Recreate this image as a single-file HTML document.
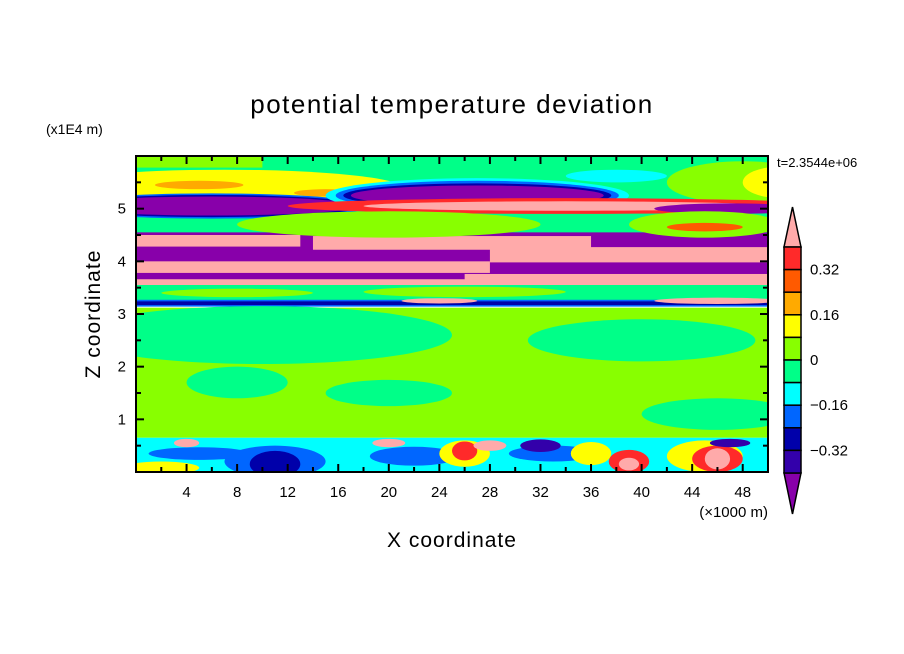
<!DOCTYPE html>
<html><head><meta charset="utf-8">
<style>
body{margin:0;background:#fff;}
svg{display:block;font-family:"Liberation Sans",sans-serif;}
</style></head>
<body>
<svg id="chart" width="904" height="654" viewBox="0 0 904 654">
<text x="452" y="113" text-anchor="middle" font-size="26" letter-spacing="1.5">potential temperature deviation</text>
<text x="46" y="134" font-size="14">(x1E4 m)</text>
<text transform="translate(100,314) rotate(-90)" text-anchor="middle" font-size="21" letter-spacing="1">Z coordinate</text>
<text x="452" y="547" text-anchor="middle" font-size="21" letter-spacing="1">X coordinate</text>
<text x="768" y="517" text-anchor="end" font-size="15">(×1000 m)</text>
<text x="777" y="167" font-size="13">t=2.3544e+06</text>
<defs><clipPath id="pc"><rect x="136" y="156" width="632" height="316"/></clipPath></defs>
<g id="field" clip-path="url(#pc)"></g>
<g id="axes"></g>
<g id="cbar"></g>
</svg>
<script>
const levelColors=["#8800aa","#3300aa","#0000aa","#0066ff","#00ffff","#00ff88","#88ff00","#ffff00","#ffaa00","#ff5a00","#ff2a2a","#ffaaaa"];
const cbarLabels=["0.32","0.16","0","−0.16","−0.32"];
const xTicks=[4,8,12,16,20,24,28,32,36,40,44,48];
const yTicks=[1,2,3,4,5];
// rectangles: [x0,x1,z0,z1,level]
const rects=[
[0,50,3.25,6,5],[0,10,5.78,6,6],
[0,50,0.65,3.12,6],
[0,50,3.55,4.55,0],
[0,13,4.28,4.5,11],[14,36,4.22,4.48,11],
[0,28,3.78,4.0,11],[28,50,3.98,4.27,11],
[0,30,3.55,3.66,11],[26,50,3.55,3.76,11],
[0,50,3.3,3.55,5],
[0,50,3.14,3.27,3],[0,50,3.17,3.24,2],
[0,50,0,0.65,4]
];
// ellipses: [cx,cz,rx,rz,level]
const blobs=[
[7,5.4,14,0.34,7],[5,5.45,3.5,0.08,8],[15,5.3,2.5,0.07,8],
[48,5.5,6,0.4,6],[51,5.5,3,0.3,7],[38,5.62,4,0.12,4],
[6,5.05,12.5,0.24,3],[6,5.05,12,0.21,2],[6,5.05,11.5,0.18,0],
[27,5.25,12,0.33,4],[27,5.25,11.2,0.28,3],[27,5.25,10.6,0.23,2],[27,5.25,10,0.19,0],
[34,5.05,22,0.15,10],[34,5.05,16,0.09,11],[47,5.0,6,0.1,0],
[20,4.7,12,0.25,6],[45,4.7,6,0.25,6],[45,4.65,3,0.08,9],
[26,3.42,8,0.1,6],[8,3.4,6,0.08,6],
[46,3.25,5,0.06,11],[24,3.25,3,0.05,11],
[10,2.6,15,0.55,5],[40,2.5,9,0.4,5],[46,1.1,6,0.3,5],[20,1.5,5,0.25,5],[8,1.7,4,0.3,5],
[11,0.2,4,0.3,3],[11,0.15,2,0.25,2],[5,0.35,4,0.12,3],[22,0.3,3.5,0.18,3],[33,0.35,3.5,0.15,3],
[2,0.08,3,0.12,7],[26,0.35,2,0.25,7],[26,0.4,1,0.18,10],[28,0.5,1.3,0.1,11],
[36,0.35,1.6,0.22,7],[39,0.2,1.6,0.22,10],[39,0.15,0.8,0.12,11],
[45,0.3,3,0.3,7],[46,0.25,2,0.25,10],[46,0.25,1,0.2,11],
[4,0.55,1,0.08,11],[20,0.55,1.3,0.08,11],[32,0.5,1.6,0.12,1],[47,0.55,1.6,0.08,1]
];
const X0=136,X1=768,Y0=472,Y1=156,XMAX=50,ZMAX=6;
const sx=v=>X0+(v/XMAX)*(X1-X0);
const sz=v=>Y0-(v/ZMAX)*(Y0-Y1);
const NS="http://www.w3.org/2000/svg";
const field=document.getElementById('field');
rects.forEach(r=>{
  const e=document.createElementNS(NS,'rect');
  e.setAttribute('x',sx(r[0]));e.setAttribute('width',sx(r[1])-sx(r[0]));
  e.setAttribute('y',sz(r[3]));e.setAttribute('height',sz(r[2])-sz(r[3]));
  e.setAttribute('fill',levelColors[r[4]]);
  
  
  field.appendChild(e);
});
blobs.forEach(b=>{
  const e=document.createElementNS(NS,'ellipse');
  e.setAttribute('cx',sx(b[0]));e.setAttribute('cy',sz(b[1]));
  e.setAttribute('rx',sx(b[2])-sx(0));e.setAttribute('ry',sz(0)-sz(b[3]));
  e.setAttribute('fill',levelColors[b[4]]);
  
  
  field.appendChild(e);
});
const axes=document.getElementById('axes');
let s='<rect x="136" y="156" width="632" height="316" fill="none" stroke="#000" stroke-width="2"/>';
for(let v=2;v<XMAX;v+=2){const L=(v%4===0)?8:5;const x=sx(v);
 s+=`<line x1="${x}" y1="472" x2="${x}" y2="${472-L}" stroke="#000" stroke-width="2"/><line x1="${x}" y1="156" x2="${x}" y2="${156+L}" stroke="#000" stroke-width="2"/>`;}
for(let v=0.5;v<ZMAX;v+=0.5){const L=(v%1===0)?8:5;const y=sz(v);
 s+=`<line x1="136" y1="${y}" x2="${136+L}" y2="${y}" stroke="#000" stroke-width="2"/><line x1="768" y1="${y}" x2="${768-L}" y2="${y}" stroke="#000" stroke-width="2"/>`;}
axes.innerHTML=s;
xTicks.forEach(v=>{const t=document.createElementNS(NS,'text');t.setAttribute('x',sx(v));t.setAttribute('y',497);t.setAttribute('text-anchor','middle');t.setAttribute('font-size','15');t.textContent=v;


axes.appendChild(t);});
yTicks.forEach(v=>{const t=document.createElementNS(NS,'text');t.setAttribute('x',126);t.setAttribute('y',sz(v)+5);t.setAttribute('text-anchor','end');t.setAttribute('font-size','15');t.textContent=v;


axes.appendChild(t);});
const cb=document.getElementById('cbar');
const CX0=784,CX1=801,CT=247,CB=473,n=10,h=(CB-CT)/n;
let c=`<polygon points="${(CX0+CX1)/2},207 ${CX1},${CT} ${CX0},${CT}" fill="${levelColors[11]}" stroke="#000" stroke-width="1.5"/>`;
c+=`<polygon points="${CX0},${CB} ${CX1},${CB} ${(CX0+CX1)/2},514" fill="${levelColors[0]}" stroke="#000" stroke-width="1.5"/>`;
for(let i=0;i<n;i++){c+=`<rect x="${CX0}" y="${CT+i*h}" width="${CX1-CX0}" height="${h}" fill="${levelColors[10-i]}" stroke="#000" stroke-width="1.5"/>`;}
cbarLabels.forEach((l,i)=>{c+=`<text x="810" y="${CT+(2*i+1)*h+5}" font-size="15">${l}</text>`;});
cb.innerHTML=c;
</script>
</body></html>
